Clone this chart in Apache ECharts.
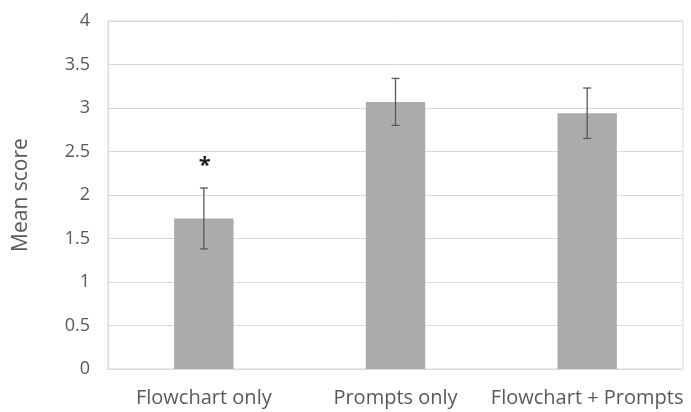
<!DOCTYPE html>
<html><head><meta charset="utf-8">
<script src="https://cdn.jsdelivr.net/npm/echarts@6/dist/echarts.min.js"></script>
<style>html,body{margin:0;padding:0;background:#fff}#c{width:691px;height:412px}</style>
</head><body><div id="c"></div>
<script>
const categories = ['Flowchart only', 'Prompts only', 'Flowchart + Prompts'];
const means = [1.73, 3.07, 2.94];
const errors = [0.35, 0.27, 0.29];
const marks = ['*', '', ''];
const yTicks = [0, 0.5, 1, 1.5, 2, 2.5, 3, 3.5, 4];

const chart = echarts.init(document.getElementById('c'));
const font = 'Open Sans';
chart.setOption({
  animation: false,
  grid: {left: 108, right: 8, top: 21, bottom: 43, show: true, borderColor: '#d9d9d9', borderWidth: 1},
  xAxis: {
    type: 'category', data: categories,
    axisLine: {lineStyle: {color: '#d9d9d9'}},
    axisTick: {show: false},
    axisLabel: {color: '#595959', fontFamily: font, fontSize: 20, margin: 19, interval: 0}
  },
  yAxis: {
    type: 'value', min: 0, max: 4, interval: 0.5,
    name: 'Mean score', nameLocation: 'middle', nameGap: 76,
    nameTextStyle: {color: '#595959', fontFamily: font, fontSize: 21},
    axisLine: {show: true, lineStyle: {color: '#d9d9d9'}},
    axisTick: {show: false},
    splitLine: {lineStyle: {color: '#d9d9d9'}},
    axisLabel: {color: '#595959', fontFamily: font, fontSize: 18, margin: 18,
      formatter: v => yTicks.includes(v) ? String(v) : ''}
  },
  series: [
    {
      type: 'bar', data: means, barWidth: '31%',
      itemStyle: {color: '#ababab'},
      silent: true
    },
    {
      type: 'custom',
      data: means.map((m, i) => [i, m - errors[i], m + errors[i]]),
      renderItem: (params, api) => {
        const x = api.value(0);
        const lo = api.coord([x, api.value(1)]);
        const hi = api.coord([x, api.value(2)]);
        const cap = 4;
        const st = {stroke: '#595959', lineWidth: 1.3};
        const children = [
          {type: 'line', shape: {x1: lo[0], y1: lo[1], x2: hi[0], y2: hi[1]}, style: st},
          {type: 'line', shape: {x1: lo[0]-cap, y1: lo[1], x2: lo[0]+cap, y2: lo[1]}, style: st},
          {type: 'line', shape: {x1: hi[0]-cap, y1: hi[1], x2: hi[0]+cap, y2: hi[1]}, style: st}
        ];
        if (marks[x]) {
          children.push({type: 'text', x: hi[0] + 1, y: hi[1] - 22,
            style: {text: marks[x], fill: '#222', font: 'bold 22px "Open Sans"', align: 'center', verticalAlign: 'middle'}});
        }
        return {type: 'group', children};
      },
      z: 10, silent: true
    }
  ]
});
</script></body></html>
